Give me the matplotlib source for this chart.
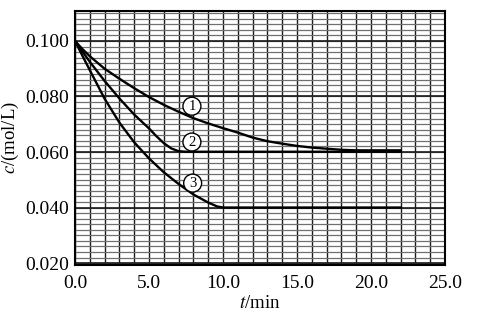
import matplotlib
matplotlib.use("Agg")
import matplotlib.pyplot as plt
import numpy as np

plt.rcParams['font.family'] = ['Liberation Serif', 'DejaVu Serif']
plt.rcParams['mathtext.fontset'] = 'stix'

# curve 1
t1 = [0, 0.5, 1, 2, 3, 4, 5, 6, 7, 8, 9, 10, 11, 12, 13, 14, 15, 16, 17, 18, 19, 22]
c1 = [0.100, 0.0971, 0.0945, 0.0900, 0.0864, 0.0830, 0.0798, 0.0770, 0.0745, 0.0722, 0.0703,
      0.0686, 0.0670, 0.0652, 0.0639, 0.0630, 0.0622, 0.0616, 0.0612, 0.0608, 0.0606, 0.0606]
# curve 2
t2 = [0, 0.5, 1, 2, 3, 4, 5, 5.5, 6, 6.5, 7, 7.5, 22]
c2 = [0.100, 0.0962, 0.0925, 0.0856, 0.0793, 0.0735, 0.0685, 0.0657, 0.0632, 0.0613,
      0.0603, 0.0601, 0.0601]
# curve 3
t3 = [0, 0.5, 1, 2, 3, 4, 5, 6, 7, 8, 9, 9.6, 10, 22]
c3 = [0.100, 0.0947, 0.0895, 0.0792, 0.0706, 0.0635, 0.0577, 0.0527, 0.0485, 0.0447,
      0.0418, 0.0404, 0.0400, 0.0400]

labels = ['1', '2', '3']
label_pos = [(7.9, 0.0765), (7.9, 0.0636), (7.95, 0.0488)]

xticks = [0, 5, 10, 15, 20, 25]
yticks = [0.020, 0.040, 0.060, 0.080, 0.100]

fig = plt.figure(figsize=(4.8, 3.26), dpi=100)
ax = fig.add_axes([75/480, 1-265/326, 370/480, 254/326])

ax.set_xlim(0, 25)
ax.set_ylim(0.0193, 0.1108)

# graph paper
for x in np.arange(0, 26, 1):
    ax.axvline(x, color='#1a1a1a', lw=1.0, zorder=1)
for y in np.arange(0.020, 0.1109, 0.002):
    ax.axhline(y, color='#707070', lw=0.9, zorder=1)
for y in yticks:
    ax.axhline(y, color='#1a1a1a', lw=1.2, zorder=1)

for t, c in [(t1, c1), (t2, c2), (t3, c3)]:
    ax.plot(t, c, color='black', lw=1.7, zorder=3, solid_joinstyle='round')

for s, (x, y) in zip(labels, label_pos):
    ax.text(x, y, s, ha='center', va='center', fontsize=10.5, zorder=4,
            bbox=dict(boxstyle='circle,pad=0.17', fc='white', ec='black', lw=1.0))

ax.set_xticks(xticks)
ax.set_xticklabels(['%.1f' % v for v in xticks])
ax.set_yticks(yticks)
ax.set_yticklabels(['%.3f' % v for v in yticks])
ax.tick_params(length=0, labelsize=14, pad=4)
ax.tick_params(axis='x', pad=7)
for sp in ax.spines.values():
    sp.set_linewidth(1.5)
    sp.set_zorder(5)

ax.set_xlabel('$t$/min', fontsize=13.5, labelpad=2)
ax.set_ylabel('$c$/(mol/L)', fontsize=13.5, labelpad=3)

fig.savefig('out.png', dpi=100)
